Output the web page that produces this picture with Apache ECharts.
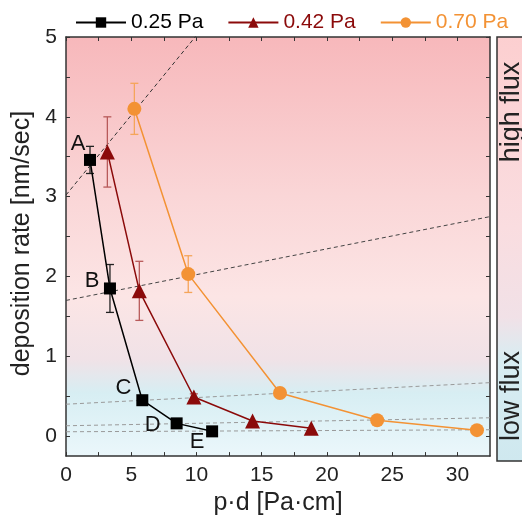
<!DOCTYPE html>
<html>
<head>
<meta charset="utf-8">
<script src="https://cdn.jsdelivr.net/npm/echarts@6/dist/echarts.min.js"></script>
<style>
  html, body { margin: 0; padding: 0; background: #ffffff; }
  #chart { width: 522px; height: 521px; }
</style>
</head>
<body>
<div id="chart"></div>
<script>
// Deposition rate versus p·d for three sputter pressures
const pressureNames = ['0.25 Pa', '0.42 Pa', '0.70 Pa'];

const pd025 = [1.84, 3.37, 5.85, 8.48, 11.2];
const rate025 = [3.46, 1.85, 0.45, 0.16, 0.06];
const err025 = [0.17, 0.30, 0, 0, 0];

const pd042 = [3.17, 5.62, 9.8, 14.3, 18.8];
const rate042 = [3.56, 1.82, 0.49, 0.19, 0.10];
const err042 = [0.44, 0.37, 0.04, 0, 0];

const pd070 = [5.24, 9.37, 16.4, 23.85, 31.5];
const rate070 = [4.10, 2.03, 0.54, 0.20, 0.075];
const err070 = [0.32, 0.23, 0, 0, 0];

// point names for the 0.25 Pa series
const pointLabels = ['A', 'B', 'C', 'D', 'E'];

// dashed guide lines, each as [x0, y0, x1, y1]
const guideAB = [0, 3.02, 32.5, 9.52];
const guideB = [0, 1.70, 32.5, 2.75];
const guideC = [0, 0.40, 32.5, 0.67];
const guideD = [0, 0.13, 32.5, 0.23];
const guideE = [0, 0.055, 32.5, 0.08];

// axis ticks
const xTickLabels = [0, 5, 10, 15, 20, 25, 30];
const xTickMarks = [0, 2.5, 5, 7.5, 10, 12.5, 15, 17.5, 20, 22.5, 25, 27.5, 30];
const yTickLabels = [0, 1, 2, 3, 4, 5];
const yTickMarks = [0, 0.5, 1, 1.5, 2, 2.5, 3, 3.5, 4, 4.5, 5];

const COLORS = ['#000000', '#8b0a0a', '#f39234'];
const ERR_COLORS = ['#222222', '#b85a5a', '#f5a55a'];
const FONT = "'Liberation Sans', Arial, sans-serif";

const labelOffsets = [[-12, -16], [-18, -8], [-19, -12], [-24, 2], [-15, 11]];

function points(xs, ys) {
  return xs.map((x, i) => [x, ys[i]]);
}
function errRows(xs, ys, es) {
  const out = [];
  xs.forEach((x, i) => { if (es[i] > 0) out.push([x, ys[i] - es[i], ys[i] + es[i]]); });
  return out;
}
function guide(g) {
  return [[g[0], g[1]], [g[2], g[3]]];
}

const chart = echarts.init(document.getElementById('chart'), null, { renderer: 'canvas' });

function errorSeries(rows, color) {
  return {
    type: 'custom',
    xAxisIndex: 0, yAxisIndex: 0,
    z: 3,
    silent: true,
    data: rows,
    renderItem: function (params, api) {
      const lo = api.coord([api.value(0), api.value(1)]);
      const hi = api.coord([api.value(0), api.value(2)]);
      const cap = 4;
      const st = { stroke: color, lineWidth: 1.3 };
      return {
        type: 'group',
        children: [
          { type: 'line', shape: { x1: lo[0], y1: lo[1], x2: hi[0], y2: hi[1] }, style: st },
          { type: 'line', shape: { x1: lo[0] - cap, y1: lo[1], x2: lo[0] + cap, y2: lo[1] }, style: st },
          { type: 'line', shape: { x1: hi[0] - cap, y1: hi[1], x2: hi[0] + cap, y2: hi[1] }, style: st }
        ]
      };
    }
  };
}

function guideSeries(g, color) {
  return {
    type: 'line',
    xAxisIndex: 0, yAxisIndex: 0,
    data: guide(g),
    showSymbol: false,
    symbol: 'none',
    silent: true,
    clip: true,
    z: 2,
    lineStyle: { color: color, width: 1, type: [4, 3] }
  };
}

const axisLineStyle = { color: '#333333', width: 1.5 };

const option = {
  animation: false,
  textStyle: { fontFamily: FONT },
  legend: {
    top: 7,
    left: 70,
    itemWidth: 50,
    itemHeight: 13,
    itemGap: 24,
    textStyle: { fontSize: 21, fontFamily: FONT },
    data: [
      { name: pressureNames[0], textStyle: { color: COLORS[0] } },
      { name: pressureNames[1], textStyle: { color: COLORS[1] } },
      { name: pressureNames[2], textStyle: { color: COLORS[2] } }
    ]
  },
  grid: {
    left: 66, right: 32, top: 37, bottom: 60,
    show: true,
    borderWidth: 0,
    backgroundColor: new echarts.graphic.LinearGradient(0, 0, 0, 1, [
      { offset: 0, color: '#f7b8bb' },
      { offset: 0.38, color: '#fad6d7' },
      { offset: 0.62, color: '#fce5e5' },
      { offset: 0.77, color: '#f0e2e7' },
      { offset: 0.85, color: '#d7eef3' },
      { offset: 1, color: '#ebf7fb' }
    ])
  },
  xAxis: [
    {
      type: 'value', min: 0, max: 32.5, position: 'bottom',
      name: 'p·d [Pa·cm]', nameLocation: 'middle', nameGap: 34,
      nameTextStyle: { fontSize: 25, color: '#222222', fontFamily: FONT },
      axisLine: { show: true, onZero: false, lineStyle: axisLineStyle },
      axisTick: { show: true, inside: true, length: 4, customValues: xTickMarks, lineStyle: { color: '#333333', width: 1 } },
      axisLabel: { customValues: xTickLabels, fontSize: 21, color: '#222222', margin: 9, fontFamily: FONT },
      splitLine: { show: false }
    },
    {
      type: 'value', min: 0, max: 32.5, position: 'top',
      axisLine: { show: true, onZero: false, lineStyle: axisLineStyle },
      axisTick: { show: true, inside: true, length: 4, customValues: xTickMarks, lineStyle: { color: '#333333', width: 1 } },
      axisLabel: { show: false },
      splitLine: { show: false }
    }
  ],
  yAxis: [
    {
      type: 'value', min: -0.25, max: 5, position: 'left',
      name: 'deposition rate [nm/sec]', nameLocation: 'middle', nameGap: 28,
      nameTextStyle: { fontSize: 25, color: '#222222', fontFamily: FONT, padding: [0, 0, 0, 6] },
      axisLine: { show: true, onZero: false, lineStyle: axisLineStyle },
      axisTick: { show: true, inside: true, length: 4, customValues: yTickMarks, lineStyle: { color: '#333333', width: 1 } },
      axisLabel: { customValues: yTickLabels, fontSize: 21, color: '#222222', margin: 9, fontFamily: FONT },
      splitLine: { show: false }
    },
    {
      type: 'value', min: -0.25, max: 5, position: 'right',
      axisLine: { show: true, onZero: false, lineStyle: axisLineStyle },
      axisTick: { show: true, inside: true, length: 4, customValues: yTickMarks, lineStyle: { color: '#333333', width: 1 } },
      axisLabel: { show: false },
      splitLine: { show: false }
    }
  ],
  graphic: [
    {
      type: 'rect',
      shape: { x: 497, y: 37, width: 40, height: 424 },
      style: {
        fill: new echarts.graphic.LinearGradient(0, 0, 0, 1, [
          { offset: 0, color: '#fccfd0' },
          { offset: 0.45, color: '#fadde0' },
          { offset: 0.66, color: '#f1e1e7' },
          { offset: 0.76, color: '#d8edf2' },
          { offset: 1, color: '#cfe8ef' }
        ]),
        stroke: '#333333',
        lineWidth: 1.5
      },
      z: 0
    },
    {
      type: 'text', x: 512, y: 112, rotation: Math.PI / 2,
      style: { text: 'high flux', fontSize: 27, fontFamily: FONT, fill: '#222222', align: 'center', verticalAlign: 'middle' },
      z: 1
    },
    {
      type: 'text', x: 512, y: 396, rotation: Math.PI / 2,
      style: { text: 'low flux', fontSize: 27, fontFamily: FONT, fill: '#222222', align: 'center', verticalAlign: 'middle' },
      z: 1
    }
  ],
  series: [
    guideSeries(guideAB, '#333333'),
    guideSeries(guideB, '#444444'),
    guideSeries(guideC, '#9a9a9a'),
    guideSeries(guideD, '#9a9a9a'),
    guideSeries(guideE, '#9a9a9a'),
    errorSeries(errRows(pd025, rate025, err025), ERR_COLORS[0]),
    errorSeries(errRows(pd042, rate042, err042), ERR_COLORS[1]),
    errorSeries(errRows(pd070, rate070, err070), ERR_COLORS[2]),
    {
      name: pressureNames[0], type: 'line', xAxisIndex: 0, yAxisIndex: 0, z: 5,
      symbol: 'rect', symbolSize: 12,
      itemStyle: { color: COLORS[0] },
      lineStyle: { color: COLORS[0], width: 1.5 },
      data: points(pd025, rate025).map((p, i) => ({
        value: p,
        label: {
          show: true, formatter: pointLabels[i], position: 'inside', offset: labelOffsets[i],
          fontSize: 22, color: '#111111', fontFamily: FONT
        }
      }))
    },
    {
      name: pressureNames[1], type: 'line', xAxisIndex: 0, yAxisIndex: 0, z: 5,
      symbol: 'triangle', symbolSize: 15,
      itemStyle: { color: COLORS[1] },
      lineStyle: { color: COLORS[1], width: 1.5 },
      data: points(pd042, rate042)
    },
    {
      name: pressureNames[2], type: 'line', xAxisIndex: 0, yAxisIndex: 0, z: 5,
      symbol: 'circle', symbolSize: 14,
      itemStyle: { color: COLORS[2] },
      lineStyle: { color: COLORS[2], width: 1.5 },
      data: points(pd070, rate070)
    }
  ]
};

chart.setOption(option);
</script>
</body>
</html>
